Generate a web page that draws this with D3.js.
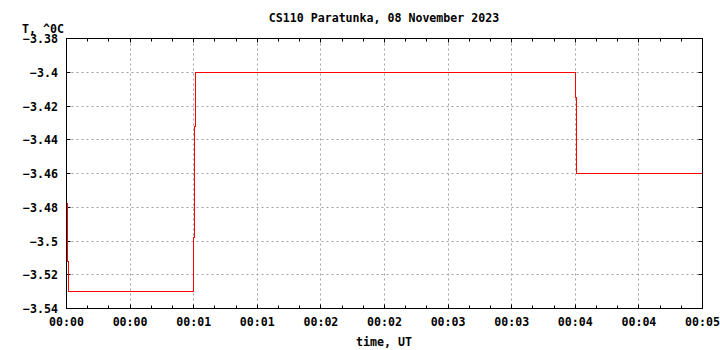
<!DOCTYPE html>
<html>
<head>
<meta charset="utf-8">
<script src="https://cdn.jsdelivr.net/npm/d3@7"></script>
<style>
  body { margin: 0; background: #fff; }
  svg text { font-family: "DejaVu Sans Mono", monospace; font-weight: bold; font-size: 11.6px; fill: #000; }
</style>
</head>
<body>
<svg id="chart"></svg>
<script>
// data (seconds after 00:00 UT, temperature in degC)
var times = [0.3, 0.75, 59.7, 60.2, 60.7, 239.9, 240.4, 240.8, 300];
var temps = [-3.4775, -3.512, -3.53, -3.498, -3.432, -3.4, -3.415, -3.445, -3.46];
var yTicks = [-3.54, -3.52, -3.5, -3.48, -3.46, -3.44, -3.42, -3.4, -3.38];
var xTicks = [0, 30, 60, 90, 120, 150, 180, 210, 240, 270, 300];
var xTickLabels = ["00:00", "00:00", "00:01", "00:01", "00:02", "00:02", "00:03", "00:03", "00:04", "00:04", "00:05"];
var xMinor = d3.range(0, 301, 10);

var svgWidth = 720, svgHeight = 350;
var pLeft = 66.5, pRight = 702.5, pTop = 38.5, pBottom = 308.5;

var svg = d3.select('#chart')
            .attr("width", svgWidth)
            .attr("height", svgHeight);

var xScale = d3.scaleLinear().domain([0, 300]).range([pLeft, pRight]);
var yScale = d3.scaleLinear().domain([-3.54, -3.38]).range([pBottom, pTop]);

// grid
svg.selectAll(".vgrid")
   .data(xTicks.slice(1, -1))
   .enter().append("line")
   .attr("x1", function(d){ return Math.floor(xScale(d)) + 0.5; })
   .attr("x2", function(d){ return Math.floor(xScale(d)) + 0.5; })
   .attr("y1", pTop).attr("y2", pBottom)
   .attr("stroke", "#a0a0a0").attr("stroke-dasharray", "2,3");

svg.selectAll(".hgrid")
   .data(yTicks.slice(1, -1))
   .enter().append("line")
   .attr("x1", pLeft).attr("x2", pRight)
   .attr("y1", function(d){ return Math.floor(yScale(d)) + 0.5; })
   .attr("y2", function(d){ return Math.floor(yScale(d)) + 0.5; })
   .attr("stroke", "#a0a0a0").attr("stroke-dasharray", "2,3");

// ticks
var ticks = svg.append("g").attr("stroke", "#000").attr("stroke-width", 1);
xMinor.forEach(function(t){
    var x = Math.floor(xScale(t)) + 0.5;
    var len = (t % 30 === 0) ? 4 : 3;
    ticks.append("line").attr("x1", x).attr("x2", x).attr("y1", pBottom).attr("y2", pBottom - len);
    ticks.append("line").attr("x1", x).attr("x2", x).attr("y1", pTop).attr("y2", pTop + len);
});
yTicks.forEach(function(v){
    var y = Math.floor(yScale(v)) + 0.5;
    ticks.append("line").attr("x1", pLeft).attr("x2", pLeft + 4).attr("y1", y).attr("y2", y);
    ticks.append("line").attr("x1", pRight).attr("x2", pRight - 4).attr("y1", y).attr("y2", y);
});

// data line
var line = d3.line()
    .x(function(d, i){ return xScale(times[i]); })
    .y(function(d){ return yScale(d); })
    .curve(d3.curveStepBefore);

svg.append("path")
   .attr("d", line(temps))
   .attr("fill", "none")
   .attr("stroke", "#ff0000")
   .attr("stroke-width", 1)
   .attr("shape-rendering", "crispEdges");

// frame
svg.append("rect")
   .attr("x", pLeft).attr("y", pTop)
   .attr("width", pRight - pLeft).attr("height", pBottom - pTop)
   .attr("fill", "none").attr("stroke", "#000");

// tick labels
svg.selectAll(".ylab")
   .data(yTicks)
   .enter().append("text")
   .attr("x", 58)
   .attr("y", function(d){ return yScale(d) + 4.5; })
   .attr("text-anchor", "end")
   .text(function(d){ return d3.format("")(d); });

svg.selectAll(".xlab")
   .data(xTicks)
   .enter().append("text")
   .attr("x", function(d){ return xScale(d); })
   .attr("y", 326)
   .attr("text-anchor", "middle")
   .text(function(d, i){ return xTickLabels[i]; });

// titles
svg.append("text").attr("x", 384).attr("y", 22).attr("text-anchor", "middle")
   .text("CS110 Paratunka, 08 November 2023");
svg.append("text").attr("x", 384).attr("y", 346).attr("text-anchor", "middle")
   .text("time, UT");
svg.append("text").attr("x", 22).attr("y", 33)
   .text("T, ^0C");
</script>
</body>
</html>
